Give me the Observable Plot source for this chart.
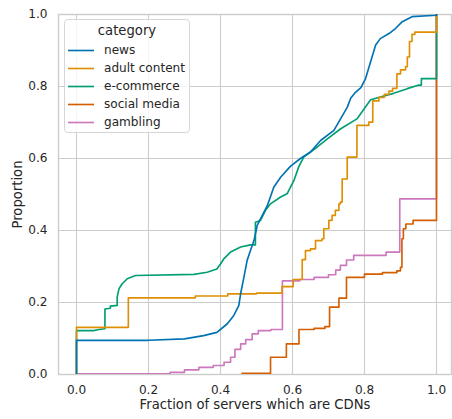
<!DOCTYPE html>
<html>
<head>
<meta charset="utf-8">
<script src="https://cdn.jsdelivr.net/npm/d3@7"></script>
<script src="https://cdn.jsdelivr.net/npm/@observablehq/plot@0.6"></script>
<style>
  body { margin: 0; background: #fff; }
  #wrap { position: relative; width: 452px; height: 419px; font-family: "DejaVu Sans", sans-serif; color: #262626; }
  #wrap svg { display: block; }
  g[aria-label="x-axis label"] text, g[aria-label="y-axis label"] text { font-size: 13.2px; }
  .legend { position: absolute; left: 64px; top: 19px; width: 126px; height: 114px; box-sizing: border-box;
            border: 1px solid #d6d6d6; border-radius: 4px; background: rgba(255,255,255,0.8); }
  .legend .title { position: absolute; left: 0; width: 100%; text-align: center; font-size: 13.2px; line-height: 16px; }
  .legend .row { position: absolute; left: 0; height: 16px; font-size: 12.1px; line-height: 16px; white-space: nowrap; }
  .legend .row svg { position: absolute; left: 3px; top: 7px; }
  .legend .row span { position: absolute; left: 39px; top: 0; }
</style>
</head>
<body>
<div id="wrap"></div>
<script>
// Hue levels and the colorblind palette they map to
const categories = ["news", "adult content", "e-commerce", "social media", "gambling"];
const palette = ["#0173b2", "#de8f05", "#029e73", "#d55e00", "#cc78bc"];

// Tick values shared by both axes
const xTicks = [0, 0.2, 0.4, 0.6, 0.8, 1.0];
const yTicks = [0, 0.2, 0.4, 0.6, 0.8, 1.0];

// ECDF of each category: fraction of servers that are CDNs vs. cumulative proportion
const newsX = [0, 0, 0.2, 0.3, 0.353, 0.39, 0.419, 0.437, 0.451, 0.456, 0.465, 0.474, 0.483, 0.493, 0.502, 0.530, 0.548, 0.567, 0.594, 0.622, 0.65, 0.678, 0.715, 0.752, 0.762, 0.775, 0.79, 0.803, 0.817, 0.831, 0.844, 0.868, 0.886, 0.905, 0.932, 1.0, 1.0];
const newsY = [0, 0.095, 0.095, 0.099, 0.108, 0.117, 0.141, 0.164, 0.192, 0.225, 0.27, 0.317, 0.344, 0.372, 0.414, 0.469, 0.52, 0.548, 0.578, 0.6, 0.618, 0.65, 0.678, 0.742, 0.768, 0.784, 0.797, 0.822, 0.869, 0.915, 0.933, 0.947, 0.961, 0.98, 0.994, 0.998, 1.0];

const adultX = [0, 0, 0.144, 0.33, 0.42, 0.5, 0.571, 0.602, 0.627, 0.636, 0.65, 0.664, 0.682, 0.687, 0.701, 0.71, 0.719, 0.729, 0.733, 0.738, 0.752, 0.779, 0.812, 0.823, 0.84, 0.855, 0.868, 0.878, 0.89, 0.9, 0.914, 0.919, 0.925, 0.932, 0.94, 1.0];
const adultY = [0, 0.131, 0.213, 0.218, 0.224, 0.226, 0.244, 0.264, 0.319, 0.344, 0.349, 0.372, 0.377, 0.405, 0.428, 0.442, 0.456, 0.474, 0.479, 0.543, 0.604, 0.692, 0.701, 0.76, 0.77, 0.778, 0.787, 0.795, 0.835, 0.846, 0.855, 0.882, 0.925, 0.945, 0.951, 1.0];

const ecommerceX = [0, 0, 0.048, 0.062, 0.079, 0.079, 0.094, 0.094, 0.113, 0.113, 0.118, 0.127, 0.141, 0.164, 0.326, 0.363, 0.39, 0.4, 0.409, 0.428, 0.456, 0.483, 0.497, 0.497, 0.511, 0.525, 0.539, 0.567, 0.585, 0.604, 0.617, 0.631, 0.65, 0.669, 0.696, 0.733, 0.779, 0.817, 0.844, 0.881, 0.919, 0.951, 0.958, 0.958, 1.0, 1.0];
const ecommerceY = [0, 0.122, 0.122, 0.125, 0.127, 0.182, 0.184, 0.19, 0.192, 0.215, 0.238, 0.252, 0.266, 0.275, 0.278, 0.284, 0.293, 0.307, 0.321, 0.34, 0.354, 0.36, 0.36, 0.423, 0.428, 0.456, 0.474, 0.493, 0.502, 0.539, 0.576, 0.604, 0.618, 0.632, 0.654, 0.682, 0.71, 0.763, 0.771, 0.781, 0.794, 0.804, 0.804, 0.822, 0.822, 1.0];

const socialX = [0.46, 0.46, 0.539, 0.583, 0.618, 0.66, 0.69, 0.703, 0.729, 0.75, 0.8, 0.85, 0.89, 0.9, 0.904, 0.908, 0.915, 0.935, 1.0];
const socialY = [0, 0.003, 0.048, 0.085, 0.125, 0.128, 0.133, 0.187, 0.212, 0.27, 0.279, 0.283, 0.288, 0.298, 0.377, 0.405, 0.418, 0.428, 1.0];

const gamblingX = [0, 0.26, 0.3, 0.34, 0.38, 0.41, 0.428, 0.44, 0.456, 0.47, 0.488, 0.505, 0.54, 0.572, 0.62, 0.66, 0.7, 0.72, 0.733, 0.75, 0.77, 0.86, 0.898, 1.0];
const gamblingY = [0.002, 0.006, 0.013, 0.02, 0.025, 0.034, 0.048, 0.07, 0.085, 0.097, 0.113, 0.122, 0.125, 0.26, 0.264, 0.27, 0.277, 0.29, 0.303, 0.318, 0.331, 0.34, 0.488, 1.0];

// Dense series read as a continuous trace; sparse ones drawn as steps
const series = [
  {category: "news", xs: newsX, ys: newsY, curve: "linear"},
  {category: "adult content", xs: adultX, ys: adultY, curve: "step-after"},
  {category: "e-commerce", xs: ecommerceX, ys: ecommerceY, curve: "linear"},
  {category: "social media", xs: socialX, ys: socialY, curve: "step-after"},
  {category: "gambling", xs: gamblingX, ys: gamblingY, curve: "step-after"}
];

const rowsOf = s => s.xs.map((x, i) => ({category: s.category, x, y: s.ys[i]}));

// Later hue levels go underneath, so the first one ends on top
const lineMarks = series.slice().reverse().map(s =>
  Plot.line(rowsOf(s), {x: "x", y: "y", stroke: "category", strokeWidth: 1.65, curve: s.curve, clip: true})
);

const fmt = d3.format(".1f");

const chart = Plot.plot({
  width: 452,
  height: 419,
  marginLeft: 58,
  marginRight: 1,
  marginTop: 14,
  marginBottom: 45,
  x: {domain: [-0.05, 1.0417]},
  y: {domain: [0, 1]},
  color: {domain: categories, range: palette},
  style: {fontFamily: "DejaVu Sans", fontSize: "12.1px", color: "#262626", background: "#fff", overflow: "visible"},
  marks: [
    Plot.gridX(xTicks, {stroke: "#cccccc", strokeOpacity: 1, strokeWidth: 1.1}),
    Plot.gridY(yTicks, {stroke: "#cccccc", strokeOpacity: 1, strokeWidth: 1.1}),
    Plot.frame({stroke: "#cccccc", strokeWidth: 1.4}),
    ...lineMarks,
    Plot.axisX(xTicks, {tickSize: 0, tickPadding: 11, tickFormat: fmt, label: "Fraction of servers which are CDNs",
      labelAnchor: "center", labelArrow: "none", labelOffset: 34}),
    Plot.axisY(yTicks, {tickSize: 0, tickPadding: 11, tickFormat: fmt, label: "Proportion",
      labelAnchor: "center", labelArrow: "none", labelOffset: 46})
  ]
});

const wrap = document.getElementById("wrap");
wrap.appendChild(chart);

// Legend with line swatches, placed in the upper-left corner of the axes
const legend = document.createElement("div");
legend.className = "legend";
const title = document.createElement("div");
title.className = "title";
title.style.top = "3px";
title.textContent = "category";
legend.appendChild(title);
categories.forEach((name, i) => {
  const row = document.createElement("div");
  row.className = "row";
  row.style.top = (22 + i * 18) + "px";
  row.innerHTML = `<svg width="26" height="3"><line x1="0" x2="26" y1="1.5" y2="1.5" stroke="${palette[i]}" stroke-width="1.65"/></svg><span>${name}</span>`;
  legend.appendChild(row);
});
wrap.appendChild(legend);
</script>
</body>
</html>
